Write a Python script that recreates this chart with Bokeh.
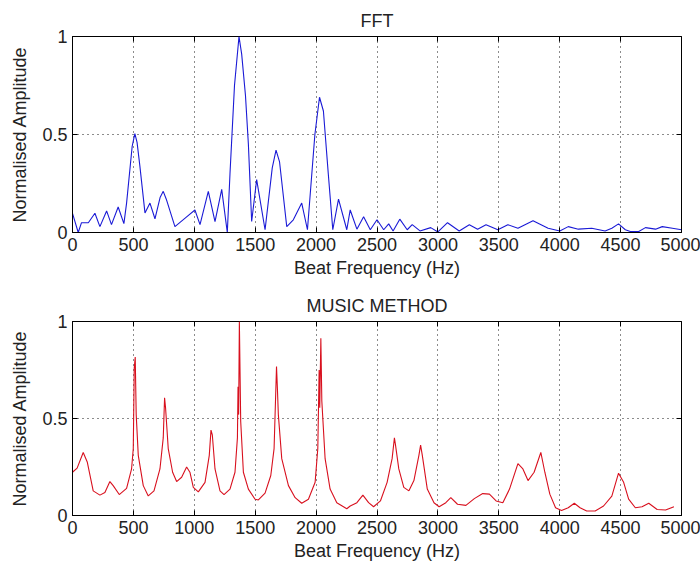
from bokeh.plotting import figure
from bokeh.layouts import column
from bokeh.models import Range1d, LinearAxis, FixedTicker
from bokeh.embed import file_html
from bokeh.resources import INLINE

# FFT spectrum (Hz, normalised amplitude)
fft_freq = [0, 47, 74, 130, 184, 225, 280, 320, 375, 422, 444, 490, 512, 530, 553, 595, 636, 677, 720, 745, 770,
            841, 937, 1005, 1047, 1115, 1170, 1225, 1271, 1293, 1330, 1367, 1389, 1420, 1444, 1471, 1512, 1581,
            1640, 1671, 1700, 1759, 1813, 1882, 1929, 1990, 2028, 2060, 2100, 2137, 2184, 2252, 2280, 2335, 2390,
            2445, 2500, 2555, 2596, 2632, 2687, 2748, 2789, 2853, 2941, 3000, 3079, 3175, 3258, 3326, 3395,
            3492, 3574, 3657, 3781, 3905, 4001, 4070, 4153, 4263, 4373, 4428, 4483, 4539, 4580, 4649, 4704,
            4787, 4842, 4925, 5000]
fft_amp = [0.098, 0.0, 0.05, 0.05, 0.098, 0.03, 0.11, 0.04, 0.13, 0.045, 0.15, 0.44, 0.505, 0.46, 0.34, 0.1, 0.15,
           0.07, 0.18, 0.21, 0.17, 0.03, 0.08, 0.115, 0.04, 0.21, 0.056, 0.22, 0.0, 0.3, 0.75, 1.0, 0.91, 0.7,
           0.45, 0.056, 0.27, 0.014, 0.33, 0.42, 0.36, 0.03, 0.065, 0.15, 0.014, 0.5, 0.69, 0.62, 0.3, 0.014,
           0.17, 0.014, 0.115, 0.017, 0.08, 0.014, 0.065, 0.014, 0.044, 0.008, 0.068, 0.014, 0.04, 0.008,
           0.025, 0.003, 0.05, 0.008, 0.04, 0.017, 0.04, 0.014, 0.04, 0.022, 0.06, 0.022, 0.008, 0.03, 0.017,
           0.022, 0.008, 0.022, 0.044, 0.014, 0.005, 0.005, 0.025, 0.017, 0.03, 0.022, 0.014]

# MUSIC pseudo-spectrum (Hz, normalised amplitude)
music_freq = [0, 38, 88, 121, 170, 225, 266, 307, 334, 384, 444, 485, 499, 507, 515, 523, 540, 581, 622,
              669, 718, 745, 756, 764, 786, 822, 855, 896, 937, 964, 992, 1033, 1088, 1123, 1137, 1148,
              1170, 1211, 1244, 1293, 1334, 1354, 1359, 1364, 1370, 1381, 1403, 1444, 1499, 1526, 1581,
              1628, 1655, 1675, 1682, 1690, 1718, 1773, 1828, 1882, 1937, 1992, 2014, 2025, 2030, 2039,
              2047, 2074, 2115, 2170, 2252, 2280, 2335, 2384, 2431, 2472, 2528, 2583, 2624, 2643, 2652,
              2679, 2720, 2762, 2803, 2844, 2858, 2872, 2913, 2968, 3010, 3065, 3106, 3161, 3230, 3299,
              3368, 3423, 3478, 3533, 3588, 3657, 3698, 3740, 3790, 3845, 3878, 3919, 3966, 4015, 4070,
              4120, 4167, 4222, 4291, 4360, 4428, 4483, 4525, 4566, 4621, 4676, 4731, 4800, 4869, 4938,
              5000]
music_amp = [0.223, 0.244, 0.325, 0.276, 0.127, 0.105, 0.119, 0.175, 0.154, 0.108, 0.14, 0.24, 0.345,
             0.76, 0.817, 0.52, 0.31, 0.154, 0.101, 0.127, 0.24, 0.4, 0.607, 0.555, 0.345, 0.223, 0.175,
             0.197, 0.25, 0.223, 0.145, 0.122, 0.171, 0.31, 0.44, 0.415, 0.24, 0.127, 0.108, 0.136, 0.223,
             0.4, 0.663, 0.52, 1.0, 0.485, 0.223, 0.136, 0.084, 0.08, 0.115, 0.206, 0.345, 0.768, 0.66,
             0.52, 0.293, 0.154, 0.092, 0.063, 0.084, 0.171, 0.345, 0.75, 0.555, 0.913, 0.59, 0.293,
             0.136, 0.066, 0.035, 0.049, 0.066, 0.105, 0.066, 0.045, 0.075, 0.171, 0.293, 0.4, 0.363,
             0.24, 0.145, 0.127, 0.18, 0.31, 0.363, 0.31, 0.136, 0.066, 0.045, 0.066, 0.092, 0.058, 0.052,
             0.087, 0.113, 0.11, 0.075, 0.066, 0.136, 0.267, 0.24, 0.18, 0.223, 0.325, 0.223, 0.11, 0.04,
             0.026, 0.04, 0.063, 0.04, 0.023, 0.023, 0.049, 0.1, 0.218, 0.171, 0.084, 0.04, 0.045, 0.063,
             0.031, 0.028, 0.045]

x_ticks = [0, 500, 1000, 1500, 2000, 2500, 3000, 3500, 4000, 4500, 5000]
y_ticks = [0, 0.5, 1]
x_label = "Beat Frequency (Hz)"
y_label = "Normalised Amplitude"

FONT = "Liberation Sans"
FS = "18px"


def make_panel(title, xs, ys, color, height, top_border, title_standoff):
    p = figure(width=700, height=height, output_backend="svg", toolbar_location=None,
               x_range=Range1d(0, 5000), y_range=Range1d(0, 1),
               min_border_left=72, min_border_right=19, min_border_top=top_border,
               min_border_bottom=52)
    p.title.text = title
    p.title.align = "center"
    p.title.text_font = FONT
    p.title.text_font_style = "normal"
    p.title.text_font_size = FS
    p.title.text_color = "#222222"
    p.title.offset = 0
    p.title.standoff = title_standoff
    p.outline_line_color = "black"
    p.outline_line_width = 1
    p.outline_line_alpha = 1
    p.background_fill_color = "white"
    p.border_fill_color = "white"

    p.xaxis.ticker = FixedTicker(ticks=x_ticks)
    p.yaxis.ticker = FixedTicker(ticks=y_ticks)
    p.yaxis.major_label_overrides = {0: "0", 0.5: "0.5", 1: "1"}
    p.xaxis.axis_label = x_label
    p.yaxis.axis_label = y_label
    for ax in (p.xaxis[0], p.yaxis[0]):
        ax.major_tick_in = 5
        ax.major_tick_out = 0
        ax.minor_tick_in = 0
        ax.minor_tick_out = 0
        ax.axis_line_color = "black"
        ax.major_tick_line_color = "black"
        ax.major_label_text_font = FONT
        ax.major_label_text_font_size = FS
        ax.major_label_text_color = "#222222"
        ax.axis_label_text_font = FONT
        ax.axis_label_text_font_size = FS
        ax.axis_label_text_font_style = "normal"
        ax.axis_label_text_color = "#222222"
    p.xaxis.major_label_standoff = 5
    p.xaxis.axis_label_standoff = 4
    p.yaxis.major_label_standoff = 5
    p.yaxis.axis_label_standoff = 9

    # mirrored tick marks on top and right (box style), no labels
    top = LinearAxis(ticker=FixedTicker(ticks=x_ticks), major_tick_in=5, major_tick_out=0,
                     minor_tick_in=0, minor_tick_out=0,
                     major_label_overrides={t: "" for t in x_ticks},
                     major_label_standoff=0,
                     axis_line_color=None, major_tick_line_color="black")
    right = LinearAxis(ticker=FixedTicker(ticks=y_ticks), major_tick_in=5, major_tick_out=0,
                       minor_tick_in=0, minor_tick_out=0,
                       major_label_overrides={0: "", 0.5: "", 1: ""},
                       major_label_standoff=0,
                       axis_line_color=None, major_tick_line_color="black")
    p.add_layout(top, "above")
    p.add_layout(right, "right")

    for g in (p.xgrid[0], p.ygrid[0]):
        g.grid_line_color = "black"
        g.grid_line_dash = "1 4"
        g.grid_line_alpha = 0.9
        g.grid_line_width = 1

    p.line(xs, ys, line_color=color, line_width=1.1)
    return p


p1 = make_panel("FFT", fft_freq, fft_amp, "#1a1ad6", 284, 36, 11)
p2 = make_panel("MUSIC METHOD", music_freq, music_amp, "#d8101e", 283, 37, 12)

layout = column(p1, p2, spacing=0)
open("out.html", "w").write(file_html(layout, INLINE))
